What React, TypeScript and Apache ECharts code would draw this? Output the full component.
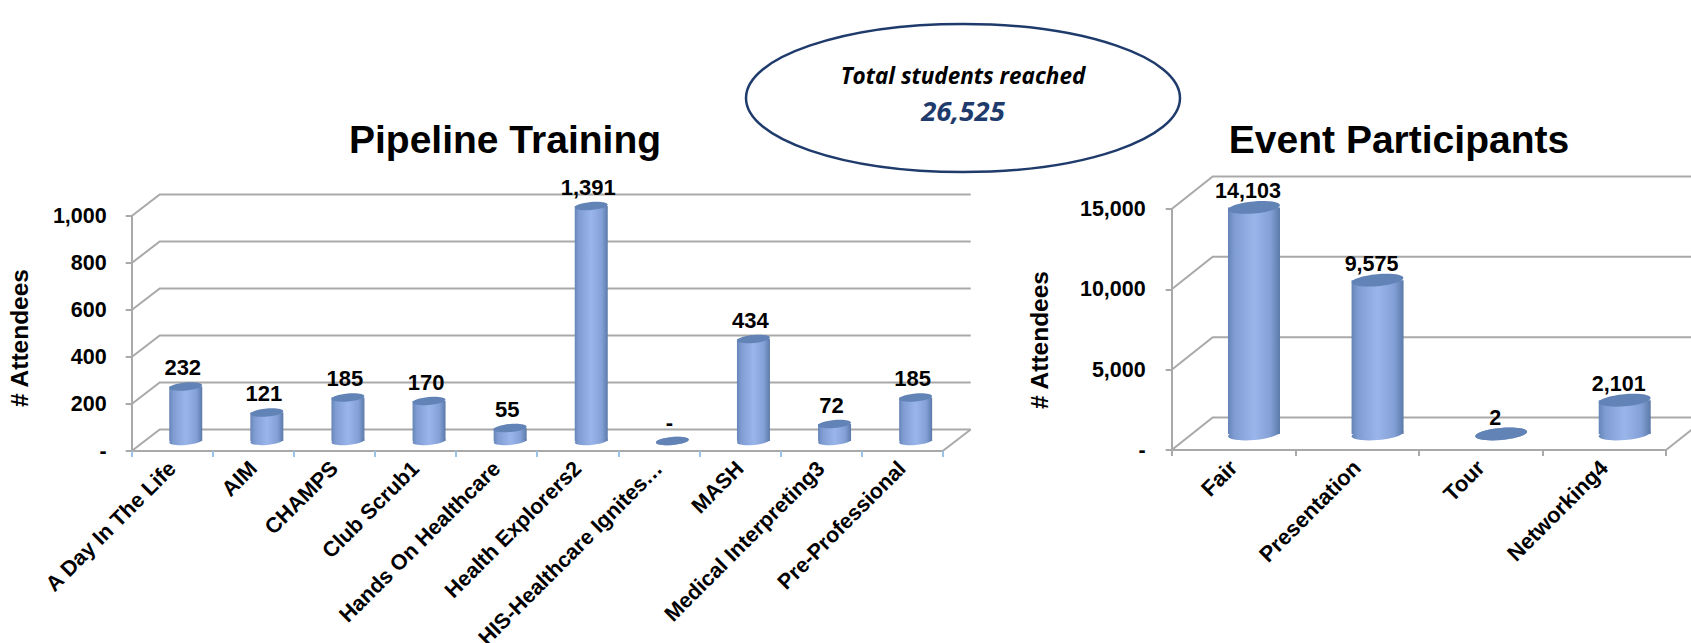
import React, { useEffect, useRef } from "react";
import * as echarts from "echarts";

const pipelineCategories = ["A Day In The Life", "AIM", "CHAMPS", "Club Scrub1", "Hands On Healthcare", "Health Explorers2", "HIS-Healthcare Ignites…", "MASH", "Medical Interpreting3", "Pre-Professional"];
const pipelineValues = [232, 121, 185, 170, 55, 1391, 0, 434, 72, 185];
const pipelineTicks = [0, 200, 400, 600, 800, 1000];
const eventCategories = ["Fair", "Presentation", "Tour", "Networking4"];
const eventValues = [14103, 9575, 2, 2101];
const eventTicks = [0, 5000, 10000, 15000];
const totalLabel = "Total students reached";
const totalValue = "26,525";

const FONT = '"Liberation Sans", Arial, sans-serif';
const GRID_COLOR = "#a9a9a9";
const NAVY = "#1f3b6c";

const fmt = (v: number) => (v === 0 ? "-" : v.toLocaleString("en-US"));

function wallRenderer(dx: number, dy: number) {
  return (params: any, api: any) => {
    const cs = params.coordSys;
    const y = api.coord([0, api.value(1)])[1];
    const style = { stroke: GRID_COLOR, lineWidth: 2, fill: "none" };
    const children: any[] = [
      { type: "polyline", shape: { points: [[cs.x, y], [cs.x + dx, y + dy], [cs.x + cs.width + dx, y + dy]] }, style },
    ];
    if (api.value(1) === 0) {
      children.push({ type: "line", shape: { x1: cs.x + cs.width, y1: y, x2: cs.x + cs.width + dx, y2: y + dy }, style });
    }
    return { type: "group", children };
  };
}

function cylinderRenderer(dx: number, dy: number, rx: number, ry: number, max: number, fontSize: number, labelGap: number, labelShift: number) {
  return (_params: any, api: any) => {
    const value = api.value(1);
    const [fx, fy0] = api.coord([api.value(0), 0]);
    const fyTop = api.coord([api.value(0), Math.min(value, max)])[1];
    const cx = fx + dx;
    const base = fy0 + dy;
    const top = fyTop + dy;
    const side = new echarts.graphic.LinearGradient(0, 0, 1, 0, [
      { offset: 0, color: "#6584b6" },
      { offset: 0.12, color: "#7f9cd2" },
      { offset: 0.5, color: "#9ab5ea" },
      { offset: 0.82, color: "#83a0d6" },
      { offset: 1, color: "#5b7aa9" },
    ]);
    const tilt = 0.09;
    return {
      type: "group",
      children: [
        { type: "ellipse", x: cx, y: base, rotation: tilt, shape: { cx: 0, cy: 0, rx, ry }, style: { fill: side } },
        { type: "rect", shape: { x: cx - rx, y: top, width: rx * 2, height: Math.max(base - top, 0) }, style: { fill: side } },
        { type: "ellipse", x: cx, y: top, rotation: tilt, shape: { cx: 0, cy: 0, rx, ry }, style: { fill: "#6283b5" } },
        {
          type: "text",
          x: cx + labelShift,
          y: top - labelGap,
          style: { text: fmt(value), font: `bold ${fontSize}px ${FONT}`, fill: "#000", textAlign: "center", textVerticalAlign: "middle" },
        },
      ],
    };
  };
}

function axes(index: number, categories: string[], max: number, interval: number, labelMargin: number, name: string, tickColor: string, nameGap: number, namePad: number, catFont: number) {
  return {
    xAxis: {
      type: "category",
      gridIndex: index,
      data: categories,
      boundaryGap: true,
      axisLine: { show: true, lineStyle: { color: GRID_COLOR, width: 2 } },
      axisTick: { show: true, length: 6, alignWithLabel: false, lineStyle: { color: tickColor, width: 2 } },
      axisLabel: { interval: 0, rotate: 45, margin: 14, color: "#000", fontFamily: FONT, fontWeight: "bold", fontSize: catFont },
      splitLine: { show: false },
    },
    yAxis: {
      type: "value",
      gridIndex: index,
      min: 0,
      max,
      interval,
      name,
      nameLocation: "middle",
      nameRotate: 90,
      nameGap,
      nameTextStyle: { color: "#000", fontFamily: FONT, fontWeight: "bold", fontSize: 24.5, padding: [0, namePad, 0, 0] },
      axisLine: { show: true, lineStyle: { color: GRID_COLOR, width: 2 } },
      axisTick: { show: true, length: 6, lineStyle: { color: GRID_COLOR, width: 2 } },
      axisLabel: { margin: labelMargin, color: "#000", fontFamily: FONT, fontWeight: "bold", fontSize: 21.5, formatter: fmt },
      splitLine: { show: false },
    },
  };
}

export default function App() {
  const ref = useRef<HTMLDivElement>(null);
  useEffect(() => {
    document.body.style.margin = "0";
    const chart = echarts.init(ref.current!, null, { renderer: "svg" });
    const a0 = axes(0, pipelineCategories, 1000, 200, 25, "# Attendees", "#9cc3e6", 100, 9, 21.5);
    const a1 = axes(1, eventCategories, 15000, 5000, 26, "# Attendees", GRID_COLOR, 120, 21, 22);
    chart.setOption({
      animation: false,
      backgroundColor: "#fff",
      title: [
        { text: "Pipeline Training", left: 500, top: 115, textAlign: "center", textStyle: { fontFamily: FONT, fontWeight: "bold", fontSize: 39, color: "#000" } },
        { text: "Event Participants", left: 1394, top: 115, textAlign: "center", textStyle: { fontFamily: FONT, fontWeight: "bold", fontSize: 39, color: "#000" } },
      ],
      grid: [
        { left: 131.7, top: 216, width: 811, height: 235, containLabel: false, outerBoundsMode: "none" },
        { left: 1171.7, top: 209, width: 494.3, height: 241, containLabel: false, outerBoundsMode: "none" },
      ],
      xAxis: [a0.xAxis, a1.xAxis],
      yAxis: [a0.yAxis, a1.yAxis],
      series: [
        {
          type: "custom",
          name: "Pipeline walls",
          xAxisIndex: 0,
          yAxisIndex: 0,
          z: 1,
          silent: true,
          renderItem: wallRenderer(28, -21.5),
          encode: { x: 0, y: 1 },
          data: pipelineTicks.map((t) => [0, t]),
        },
        {
          type: "custom",
          name: "Pipeline Training",
          xAxisIndex: 0,
          yAxisIndex: 0,
          z: 2,
          renderItem: cylinderRenderer(13.5, -10, 16.5, 4, 1000, 22, 19, -3),
          encode: { x: 0, y: 1 },
          data: pipelineValues.map((v, i) => [i, v]),
        },
        {
          type: "custom",
          name: "Event walls",
          xAxisIndex: 1,
          yAxisIndex: 1,
          z: 1,
          silent: true,
          renderItem: wallRenderer(41, -32.5),
          encode: { x: 0, y: 1 },
          data: eventTicks.map((t) => [0, t]),
        },
        {
          type: "custom",
          name: "Event Participants",
          xAxisIndex: 1,
          yAxisIndex: 1,
          z: 2,
          renderItem: cylinderRenderer(20.5, -16, 26, 6, 15000, 21.5, 16, -6),
          encode: { x: 0, y: 1 },
          data: eventValues.map((v, i) => [i, v]),
        },
      ],
      graphic: [
        {
          type: "ellipse",
          z: 10,
          shape: { cx: 963, cy: 98, rx: 217, ry: 74 },
          style: { fill: "#fff", stroke: NAVY, lineWidth: 2.5 },
        },
        {
          type: "text",
          z: 11,
          x: 963,
          y: 75,
          style: { text: totalLabel, font: 'italic bold 22.5px "Open Sans", sans-serif', fill: "#000", textAlign: "center", textVerticalAlign: "middle" },
        },
        {
          type: "text",
          z: 11,
          x: 963,
          y: 110,
          style: { text: totalValue, font: 'italic bold 27.5px "Open Sans", sans-serif', fill: NAVY, textAlign: "center", textVerticalAlign: "middle" },
        },
      ],
    });
    return () => chart.dispose();
  }, []);
  return <div ref={ref} style={{ position: "absolute", left: 0, top: 0, width: 1691, height: 643 }} />;
}
